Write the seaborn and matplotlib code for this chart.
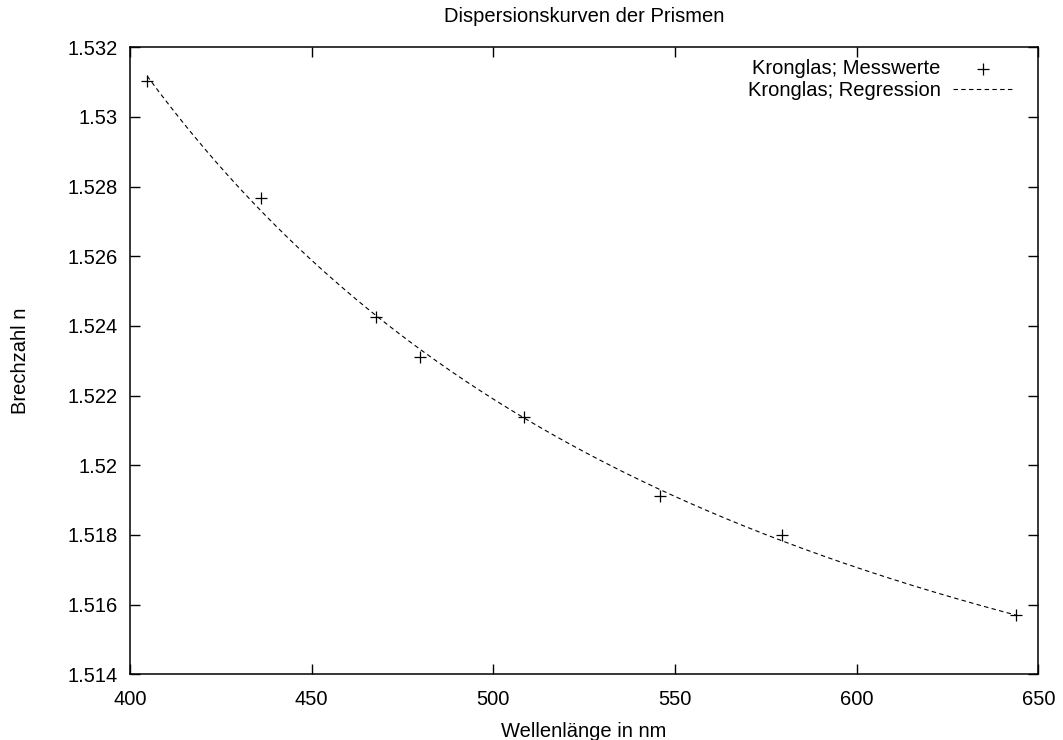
import numpy as np
import pandas as pd
import matplotlib
matplotlib.use("Agg")
import matplotlib.pyplot as plt
import seaborn as sns

# Data
wavelength_nm = [404.7, 436.0, 467.8, 479.9, 508.5, 546.0, 579.4, 643.8]
n_measured = [1.53104, 1.52766, 1.52425, 1.52312, 1.52140, 1.51913, 1.51799, 1.51570]

title = "Dispersionskurven der Prismen"
xlabel = "Wellenlänge in nm"
ylabel = "Brechzahl n"
label_points = "Kronglas; Messwerte"
label_fit = "Kronglas; Regression"
xticks = [400, 450, 500, 550, 600, 650]
yticks = [1.514, 1.516, 1.518, 1.520, 1.522, 1.524, 1.526, 1.528, 1.530, 1.532]
ytick_labels = ["1.514", "1.516", "1.518", "1.52", "1.522", "1.524", "1.526", "1.528", "1.53", "1.532"]

# Cauchy regression n = A + B / lambda^2 + C / lambda^4 computed from the measured data
lam = np.array(wavelength_nm)
coef = np.polyfit(1.0 / lam**2, np.array(n_measured), 2)
lam_fit = np.linspace(lam.min(), lam.max(), 300)
n_fit = np.polyval(coef, 1.0 / lam_fit**2)

df_pts = pd.DataFrame({"x": wavelength_nm, "n": n_measured})
df_fit = pd.DataFrame({"x": lam_fit, "n": n_fit})

sns.set_theme(style="ticks")
plt.rcParams["font.family"] = ["Liberation Sans", "DejaVu Sans"]
plt.rcParams["font.size"] = 14.5
plt.rcParams["text.color"] = "black"
plt.rcParams["axes.labelcolor"] = "black"

fig = plt.figure(figsize=(10.63, 7.40), dpi=100)
ax = fig.add_axes([0.1223, 0.0888, 0.8545, 0.8473])

sns.lineplot(data=df_fit, x="x", y="n", ax=ax, color="black", linewidth=0.8,
             label=label_fit, sort=True)
ax.lines[-1].set_dashes([4, 3])
sns.scatterplot(data=df_pts, x="x", y="n", ax=ax, marker="+", color="black",
                s=64, linewidth=0.9, label=label_points, zorder=3)

ax.set_xlim(400, 650)
ax.set_ylim(1.514, 1.532)
ax.set_xticks(xticks)
ax.set_xticklabels([str(t) for t in xticks])
ax.set_yticks(yticks)
ax.set_yticklabels(ytick_labels)

ax.tick_params(direction="in", length=7, width=1.0, top=True, right=True,
               labelsize=14.5, colors="black")
ax.tick_params(axis="x", pad=11)
ax.tick_params(axis="y", pad=9)
for sp in ax.spines.values():
    sp.set_visible(True)
    sp.set_linewidth(1.1)
    sp.set_color("black")

ax.set_xlabel(xlabel, fontsize=14.5, labelpad=10, color="black")
ax.set_ylabel(ylabel, fontsize=14.5, labelpad=27, color="black")
ax.set_title(title, fontsize=14.5, pad=18, color="black")

handles, labels = ax.get_legend_handles_labels()
order = [labels.index(label_points), labels.index(label_fit)]
leg = ax.legend([handles[i] for i in order], [labels[i] for i in order],
                loc="upper right", frameon=False, markerfirst=False,
                fontsize=14.5, handlelength=3.0, handletextpad=0.6,
                labelspacing=0.15, borderaxespad=0.0,
                bbox_to_anchor=(1021 / 1063, 1 - 51 / 740),
                bbox_transform=fig.transFigure)
for t in leg.get_texts():
    t.set_color("black")

fig.savefig("out.png", dpi=100)
